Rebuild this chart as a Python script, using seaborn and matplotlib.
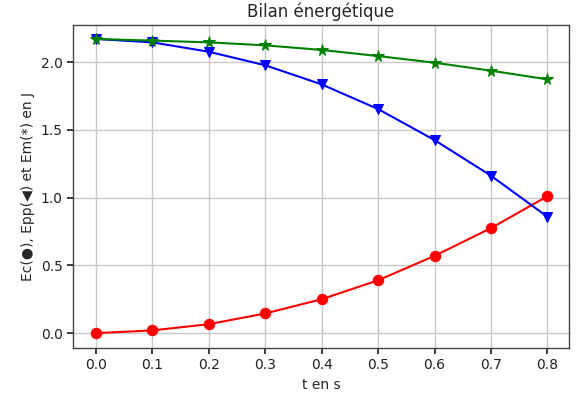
import matplotlib
matplotlib.use("Agg")
import matplotlib.pyplot as plt
import seaborn as sns
import pandas as pd

t = [0.0, 0.1, 0.2, 0.3, 0.4, 0.5, 0.6, 0.7, 0.8]
ec = [0.0, 0.02, 0.066, 0.145, 0.25, 0.39, 0.57, 0.775, 1.01]
epp = [2.17, 2.145, 2.076, 1.976, 1.835, 1.653, 1.424, 1.161, 0.858]
em = [2.17, 2.158, 2.145, 2.123, 2.089, 2.044, 1.995, 1.936, 1.872]

sns.set_theme(style="ticks")
plt.rcParams['font.family'] = ['DejaVu Sans']

fig, ax = plt.subplots(figsize=(5.77, 3.97), dpi=100)
df = pd.DataFrame({"t": t, "ec": ec, "epp": epp, "em": em})
sns.lineplot(data=df, x="t", y="ec", ax=ax, color="red", marker="o",
             markersize=7.5, markeredgecolor="red", linewidth=1.5)
sns.lineplot(data=df, x="t", y="epp", ax=ax, color="blue", marker="v",
             markersize=7.5, markeredgecolor="blue", linewidth=1.5)
sns.lineplot(data=df, x="t", y="em", ax=ax, color="green", marker="*",
             markersize=8.5, markeredgecolor="green", linewidth=1.5)

ax.set_xlim(-0.04, 0.838)
ax.set_ylim(-0.108, 2.273)
ax.set_xticks(t)
ax.set_xticklabels([f"{v:.1f}" for v in t])
ax.set_yticks([0.0, 0.5, 1.0, 1.5, 2.0])
ax.set_yticklabels(["0.0", "0.5", "1.0", "1.5", "2.0"])
ax.grid(True, color="#c8c8c8", linewidth=1)
for s in ax.spines.values():
    s.set_color("#444444")
    s.set_linewidth(1)
ax.tick_params(colors="#222222", labelsize=10, length=4)
ax.set_title("Bilan énergétique", fontsize=12)
ax.set_xlabel("t en s", fontsize=10)
ax.set_ylabel("Ec(●), Epp(◀) et Em(*) en J", fontsize=10)
fig.subplots_adjust(left=0.127, right=0.986, top=0.937, bottom=0.124)
fig.savefig("out.png", dpi=100)
